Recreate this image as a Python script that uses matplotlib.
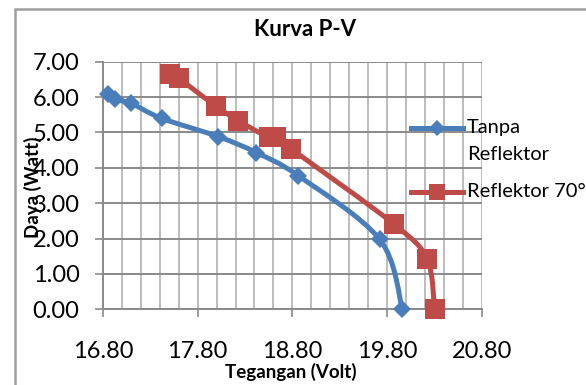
import numpy as np
import matplotlib
matplotlib.use("Agg")
import matplotlib.pyplot as plt
from matplotlib.path import Path
from matplotlib.patches import PathPatch, Rectangle
from matplotlib.lines import Line2D

# ---- data ----
tanpa_v = [16.86, 16.93, 17.10, 17.42, 18.02, 18.42, 18.86, 19.72, 19.96]
tanpa_p = [6.09, 5.94, 5.82, 5.40, 4.88, 4.43, 3.78, 1.98, 0.00]
refl_v = [17.51, 17.60, 17.99, 18.23, 18.55, 18.63, 18.79, 19.87, 20.22, 20.30]
refl_p = [6.65, 6.53, 5.75, 5.33, 4.86, 4.86, 4.53, 2.41, 1.42, 0.00]
series_labels = ["Tanpa\nReflektor", "Reflektor 70°"]
x_ticks = [16.80, 17.80, 18.80, 19.80, 20.80]
y_ticks = [0.0, 1.0, 2.0, 3.0, 4.0, 5.0, 6.0, 7.0]
title = "Kurva P-V"
x_label = "Tegangan (Volt)"
y_label = "Daya (Watt)"

BLUE = "#4A7EBB"
RED = "#BE4B48"
FONT = "Lato"
W, H = 586, 385

plt.rcParams['font.family'] = [FONT, 'DejaVu Sans']

fig = plt.figure(figsize=(W / 100, H / 100), dpi=100)

def fx(px):
    return px / W

def fy(py):
    return 1 - py / H

# outer chart frame
fig.add_artist(Rectangle((fx(14.5), fy(420)), 1.0, fy(9) - fy(420),
                         transform=fig.transFigure, fill=False,
                         edgecolor="#a0a0a0", lw=1.8))

L, R, T, B = 102.8, 482.0, 61.7, 309.3
ax = fig.add_axes([fx(L), fy(B), fx(R) - fx(L), fy(T) - fy(B)])
ax.set_xlim(16.8, 20.8)
ax.set_ylim(0, 7)

ax.set_xticks(x_ticks)
ax.set_xticklabels([f"{v:.2f}" for v in x_ticks])
ax.set_yticks(y_ticks)
ax.set_yticklabels([f"{v:.2f}" for v in y_ticks])
ax.set_xticks(np.arange(16.8, 20.81, 0.2), minor=True)

ax.grid(which='major', axis='y', color="#8a8a8a", lw=1.4)
ax.grid(which='minor', axis='x', color="#bdbdbd", lw=1.4)
ax.grid(which='major', axis='x', color="#bdbdbd", lw=1.4)
ax.set_axisbelow(True)

for s in ['top', 'right']:
    ax.spines[s].set_visible(False)
ax.spines['left'].set_color("#8a8a8a")
ax.spines['bottom'].set_color("#8a8a8a")
ax.spines['left'].set_linewidth(1.4)
ax.spines['bottom'].set_linewidth(1.4)

ax.tick_params(axis='x', which='major', length=5.8, width=1.2, color="#8a8a8a",
               pad=17, labelsize=17)
ax.tick_params(axis='x', which='minor', length=0)
ax.tick_params(axis='y', which='major', length=5.8, width=1.2, color="#8a8a8a",
               pad=11, labelsize=17)


def smooth_path(xs, ys):
    pts = np.column_stack([xs, ys]).astype(float)
    n = len(pts)
    verts = [pts[0]]
    codes = [Path.MOVETO]
    for i in range(n - 1):
        p0 = pts[i - 1] if i > 0 else pts[i]
        p1 = pts[i]
        p2 = pts[i + 1]
        p3 = pts[i + 2] if i + 2 < n else pts[i + 1]
        c1 = p1 + (p2 - p0) / 6
        c2 = p2 - (p3 - p1) / 6
        verts += [c1, c2, p2]
        codes += [Path.CURVE4] * 3
    return Path(verts, codes)


for xs, ys, col, mk, ms in [(tanpa_v, tanpa_p, BLUE, 'D', 9.5),
                            (refl_v, refl_p, RED, 's', 14)]:
    ax.add_patch(PathPatch(smooth_path(xs, ys), facecolor='none', edgecolor=col,
                           lw=3.6, capstyle='round', joinstyle='round',
                           clip_on=False, zorder=3))
    ax.plot(xs, ys, linestyle='none', marker=mk, ms=ms, color=col,
            markeredgewidth=0, clip_on=False, zorder=4)

# manual legend
leg_y = [128, 192]
for (lab, col, mk, ms), yy in zip([(series_labels[0], BLUE, 'D', 8),
                                   (series_labels[1], RED, 's', 11)], leg_y):
    fig.add_artist(Line2D([fx(411), fx(463)], [fy(yy), fy(yy)],
                          transform=fig.transFigure, color=col, lw=3.6))
    fig.add_artist(Line2D([fx(437)], [fy(yy)], transform=fig.transFigure,
                          color=col, marker=mk, ms=ms, markeredgewidth=0))
    for k, line in enumerate(lab.split("\n")):
        fig.text(fx(467), fy(yy + 26 * k), line, ha='left', va='center',
                 fontsize=14.5)

fig.text(fx(305), fy(30), title, ha='center', va='center', fontsize=16,
         fontweight='bold')
fig.text(fx(291), fy(372), x_label, ha='center', va='center', fontsize=13.5,
         fontweight='bold')
fig.text(fx(33), fy(187), y_label, ha='center', va='center', fontsize=13.5,
         fontweight='bold', rotation=90)

fig.savefig("out.png", dpi=100)
